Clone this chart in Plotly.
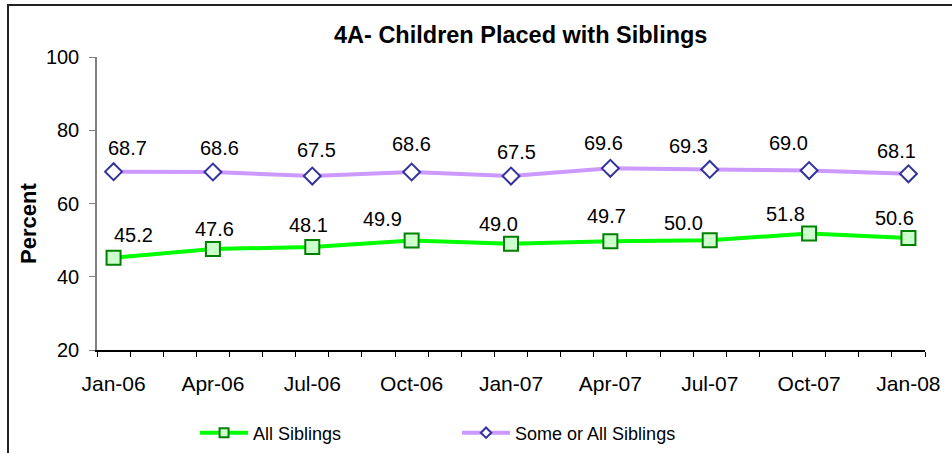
import plotly.graph_objects as go

# ---- data ----
categories = ["Jan-06", "Apr-06", "Jul-06", "Oct-06", "Jan-07", "Apr-07", "Jul-07", "Oct-07", "Jan-08"]
month_index = [0, 3, 6, 9, 12, 15, 18, 21, 24]
all_siblings = [45.2, 47.6, 48.1, 49.9, 49.0, 49.7, 50.0, 51.8, 50.6]
some_or_all = [68.7, 68.6, 67.5, 68.6, 67.5, 69.6, 69.3, 69.0, 68.1]
y_ticks = [20, 40, 60, 80, 100]

# label offsets (pixels) relative to each point, as placed in the original
green_dx = [20, 2, -4, -29, -13, -4, -26, -24, -14]
green_dy = [23, 20, 22, 21, 20, 25, 17, 20, 20]
purple_dx = [14, 7, 4, 0, 5, -7, -21, -21, -12]
purple_dy = [24, 24, 26, 28, 24, 25, 23, 28, 23]

FONT = "Liberation Sans, Arial, sans-serif"

green_line = dict(color="#00FF00", width=4)
purple_line = dict(color="#CC99FF", width=4)
green_marker = dict(symbol="square", color="#CCFFCC", line=dict(color="#008000", width=2))
purple_marker = dict(symbol="diamond", color="#FFFFFF", line=dict(color="#333399", width=2))

fig = go.Figure()
fig.add_trace(go.Scatter(
    x=month_index, y=all_siblings, mode="lines+markers", name="All Siblings", showlegend=False,
    line=green_line, marker=dict(size=14, **green_marker),
))
fig.add_trace(go.Scatter(
    x=month_index, y=some_or_all, mode="lines+markers", name="Some or All Siblings", showlegend=False,
    line=purple_line, marker=dict(size=13, **purple_marker),
))
# legend entries (smaller markers, as in the original legend)
fig.add_trace(go.Scatter(x=[None], y=[None], mode="lines+markers", name="All Siblings",
                         line=green_line, marker=dict(size=9, **green_marker)))
fig.add_trace(go.Scatter(x=[None], y=[None], mode="lines+markers", name="Some or All Siblings",
                         line=purple_line, marker=dict(size=8, **purple_marker)))

annotations = []
for xs, ys, dxs, dys in [(month_index, all_siblings, green_dx, green_dy),
                         (month_index, some_or_all, purple_dx, purple_dy)]:
    for x, y, dx, dy in zip(xs, ys, dxs, dys):
        annotations.append(dict(x=x, y=y, xref="x", yref="y", text=f"{y:.1f}",
                                showarrow=False, xshift=dx, yshift=dy,
                                font=dict(family=FONT, size=20, color="black")))

# title
annotations.append(dict(text="<b>4A- Children Placed with Siblings</b>", xref="paper", yref="paper",
                        x=(520 - 97) / 828, y=(350 - 35) / 293, showarrow=False,
                        xanchor="center", yanchor="middle",
                        font=dict(family=FONT, size=23.5, color="black")))
# y title
annotations.append(dict(text="<b>Percent</b>", xref="paper", yref="paper",
                        x=(28 - 97) / 828, y=(350 - 224) / 293, showarrow=False, textangle=-90,
                        xanchor="center", yanchor="middle",
                        font=dict(family=FONT, size=22, color="black")))

fig.update_layout(
    width=952, height=453,
    margin=dict(l=97, r=27, t=57, b=103, autoexpand=False),
    paper_bgcolor="white", plot_bgcolor="white",
    showlegend=True,
    legend=dict(orientation="h", x=(205 - 97) / 828 - 0.012, y=(350 - 433) / 293,
                xanchor="left", yanchor="middle", itemwidth=48,
                entrywidth=199, entrywidthmode="pixels",
                font=dict(family=FONT, size=18, color="black"), bgcolor="rgba(0,0,0,0)"),
    annotations=annotations,
    shapes=[dict(type="rect", xref="paper", yref="paper",
                 x0=(8 - 97) / 828, x1=1.3, y0=-0.6, y1=(350 - 5) / 293,
                 line=dict(color="#222222", width=2), fillcolor="rgba(0,0,0,0)", layer="below")],
)

fig.update_xaxes(
    range=[-0.5, 24.5], tickvals=month_index, ticktext=categories, ticks="",
    showline=True, linecolor="black", linewidth=1.5, showgrid=False, zeroline=False,
    tickfont=dict(family=FONT, size=21, color="black"), ticklabelstandoff=14,
    minor=dict(ticks="outside", tick0=-0.5, dtick=1, ticklen=5, tickcolor="black", tickwidth=1, showgrid=False),
)
fig.update_yaxes(
    range=[20, 100], tickvals=y_ticks, ticks="outside", ticklen=6, tickcolor="#808080",
    showline=True, linecolor="#808080", linewidth=1.5, showgrid=False, zeroline=False,
    tickfont=dict(family=FONT, size=20, color="black"), ticklabelstandoff=6,
)

fig.write_html("out.html", config={"displayModeBar": False},
               post_script="document.body.style.margin='0';document.body.style.padding='0';")
